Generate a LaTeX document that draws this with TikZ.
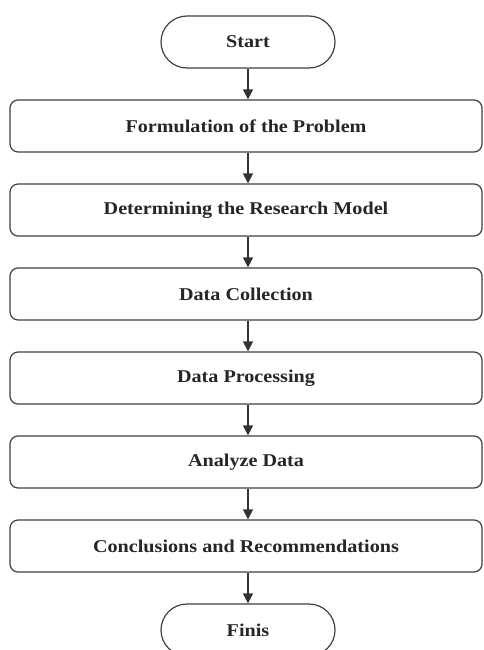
\documentclass[tikz,border=0pt]{standalone}
\usepackage{fontspec}
\setmainfont{Liberation Serif}[FakeStretch=1.12]
\usetikzlibrary{shapes.misc,arrows.meta}
\begin{document}
\begin{tikzpicture}[x=1pt,y=-1pt,
  every node/.style={font=\fontsize{18}{20}\selectfont\bfseries, text=black!85},
  stepbox/.style={draw=black!75, line width=1.2pt, rectangle, rounded corners=8pt,
    minimum width=472pt, minimum height=52pt, inner sep=0pt},
  termbox/.style={draw=black!75, line width=1.2pt, rounded rectangle,
    minimum width=174pt, minimum height=52pt, inner sep=0pt},
  flow/.style={draw=black!80, line width=1.2pt, -{Triangle[length=10pt,width=10pt]}}]
\useasboundingbox (0,0) rectangle (483,650);
\clip (0,0) rectangle (483,650);
\fill[white] (0,0) rectangle (483,650);
\node[termbox] (start) at (248,42) {Start};
\node[stepbox] (s1) at (246,126) {Formulation of the Problem};
\node[stepbox] (s2) at (246,210) {Determining the Research Model};
\node[stepbox] (s3) at (246,294) {Data Collection};
\node[stepbox] (s4) at (246,378) {Data Processing};
\node[stepbox] (s5) at (246,462) {Analyze Data};
\node[stepbox] (s6) at (246,546) {Conclusions and Recommendations};
\node[termbox] (finis) at (248,630) {Finis};
\draw[flow] (start.south) -- (start.south |- s1.north);
\draw[flow] (start.south |- s1.south) -- (start.south |- s2.north);
\draw[flow] (start.south |- s2.south) -- (start.south |- s3.north);
\draw[flow] (start.south |- s3.south) -- (start.south |- s4.north);
\draw[flow] (start.south |- s4.south) -- (start.south |- s5.north);
\draw[flow] (start.south |- s5.south) -- (start.south |- s6.north);
\draw[flow] (start.south |- s6.south) -- (finis.north);
\end{tikzpicture}
\end{document}
